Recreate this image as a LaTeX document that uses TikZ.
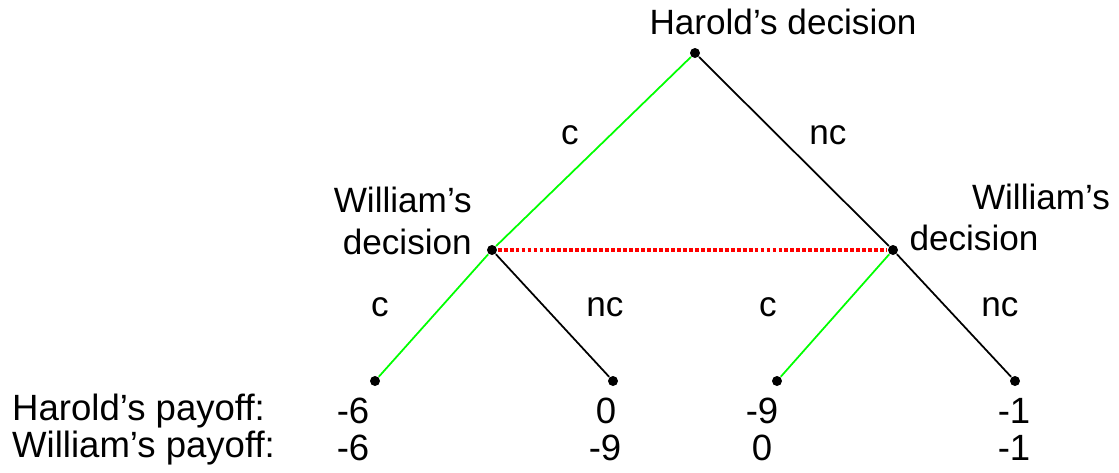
\documentclass[tikz,border=0pt]{standalone}
\usepackage{fontspec}
\setmainfont{Liberation Sans}
\begin{document}
\begin{tikzpicture}[
  every node/.style={font=\fontsize{10}{12}\selectfont},
  dot/.style={circle, fill=black, inner sep=0pt, minimum size=1mm},
  lbl/.style={inner sep=1pt},
  pay/.style={inner sep=1pt, font=\fontsize{10.4}{12}\selectfont},
  chosen/.style={draw=green, line width=0.5pt},
  other/.style={draw=black, line width=0.5pt},
  infoset/.style={draw=red, line width=1pt, dash pattern=on 1.1pt off 0.6pt}
]
  \useasboundingbox (0,0) rectangle (11.19,4.72);

  % Nodos de decisión
  \node[dot] (h) at (6.95,4.19) {};
  \node[dot] (wl) at (4.92,2.22) {};
  \node[dot] (wr) at (8.93,2.22) {};

  % Hojas
  \node[dot] (l1) at (3.75,0.91) {};
  \node[dot] (l2) at (6.13,0.91) {};
  \node[dot] (l3) at (7.77,0.91) {};
  \node[dot] (l4) at (10.15,0.91) {};

  % Etiquetas de los decisores
  \node[lbl] (hlab) at (7.83,4.50) {Harold’s decision};
  \node[lbl, align=right, anchor=east] (wllab) at (4.76,2.51) {William’s\\decision};
  \node[lbl] (wrlab1) at (10.41,2.75) {William’s};
  \node[lbl] (wrlab2) at (9.74,2.34) {decision};

  % Ramas
  \draw[chosen] (h) -- (wl);
  \draw[other] (h) -- (wr);
  \draw[chosen] (wl) -- (l1);
  \draw[other] (wl) -- (l2);
  \draw[chosen] (wr) -- (l3);
  \draw[other] (wr) -- (l4);

  % Conjunto de información
  \draw[infoset] (wl) -- (wr);

  % Etiquetas de las ramas
  \node[lbl] (e1) at (5.70,3.37) {c};
  \node[lbl] (e2) at (8.28,3.37) {nc};
  \node[lbl] (e3) at (3.80,1.65) {c};
  \node[lbl] (e4) at (6.05,1.65) {nc};
  \node[lbl] (e5) at (7.68,1.65) {c};
  \node[lbl] (e6) at (10.00,1.65) {nc};

  % Pagos
  \node[pay, anchor=west] (hp) at (0.08,0.61) {Harold’s payoff:};
  \node[pay, anchor=west] (wp) at (0.08,0.24) {William’s payoff:};
  \node[pay] (hp1) at (3.53,0.61) {-6};
  \node[pay] (hp2) at (6.06,0.61) {0};
  \node[pay] (hp3) at (7.62,0.61) {-9};
  \node[pay] (hp4) at (10.14,0.61) {-1};
  \node[pay] (wp1) at (3.53,0.24) {-6};
  \node[pay] (wp2) at (6.05,0.24) {-9};
  \node[pay] (wp3) at (7.62,0.24) {0};
  \node[pay] (wp4) at (10.14,0.24) {-1};
\end{tikzpicture}
\end{document}
